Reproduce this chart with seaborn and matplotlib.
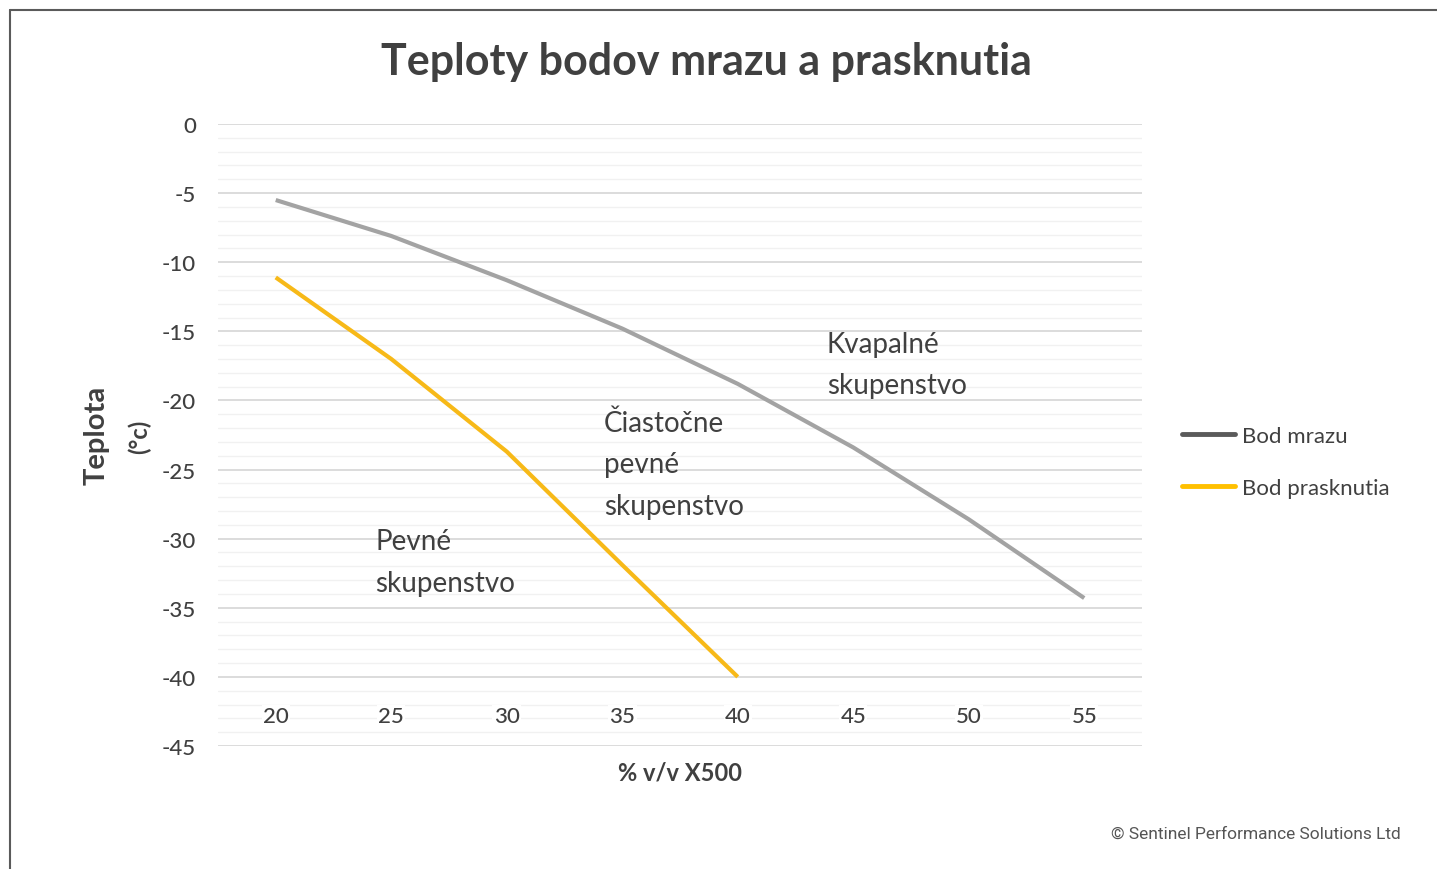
import matplotlib
matplotlib.use("Agg")
import matplotlib.pyplot as plt
from matplotlib.lines import Line2D
from matplotlib.ticker import MultipleLocator
import seaborn as sns
import pandas as pd

# ---- data ----
x_values = [20, 25, 30, 35, 40, 45, 50, 55]
bod_mrazu = [-5.5, -8.1, -11.3, -14.8, -18.8, -23.4, -28.6, -34.3]
x_prask = [20, 25, 30, 35, 40]
bod_prasknutia = [-11.1, -17.0, -23.7, -31.9, -40.0]
series_names = ["Bod mrazu", "Bod prasknutia"]
y_ticks = [0, -5, -10, -15, -20, -25, -30, -35, -40, -45]

title = "Teploty bodov mrazu a prasknutia"
xlabel = "% v/v X500"
ylabel1 = "Teplota"
ylabel2 = "(°c)"
credit = "© Sentinel Performance Solutions Ltd"
regions = [
    ("Kvapalné\nskupenstvo", 43.85, -17.4),
    ("Čiastočne\npevné\nskupenstvo", 34.2, -24.6),
    ("Pevné\nskupenstvo", 24.3, -31.7),
]

colors = {"Bod mrazu": "#a3a3a3", "Bod prasknutia": "#f7b918"}
legend_colors = {"Bod mrazu": "#5a5a5a", "Bod prasknutia": "#ffc000"}

df = pd.concat([
    pd.DataFrame({"x": x_values, "y": bod_mrazu, "serie": series_names[0]}),
    pd.DataFrame({"x": x_prask, "y": bod_prasknutia, "serie": series_names[1]}),
])

sns.set_theme(style="white")
plt.rcParams["font.family"] = ["Lato", "DejaVu Sans"]
plt.rcParams["axes.unicode_minus"] = False

fig = plt.figure(figsize=(14.37, 8.70), dpi=100)
fig.patch.set_facecolor("white")
ax = fig.add_axes([0.1517, 0.1414, 0.6430, 0.7149])

sns.lineplot(data=df, x="x", y="y", hue="serie", palette=colors, linewidth=3,
             ax=ax, legend=False, sort=False)
for line in ax.lines:
    line.set_solid_capstyle("butt")

ax.set_xlim(17.5, 57.5)
ax.set_ylim(-45, 0)
ax.set_yticks(y_ticks)
ax.yaxis.set_minor_locator(MultipleLocator(1))
ax.set_xticks(x_values)
ax.grid(True, which="major", axis="y", color="#d9d9d9", linewidth=1.3)
ax.grid(True, which="minor", axis="y", color="#f1f1f1", linewidth=1.0)
ax.grid(False, axis="x")
ax.set_axisbelow(True)
ax.xaxis.set_zorder(1.5)  # x tick labels above the y gridlines, below the lines
for s in ["top", "right", "left"]:
    ax.spines[s].set_visible(False)
ax.spines["bottom"].set_position(("data", -40))
ax.spines["bottom"].set_visible(False)
ax.tick_params(axis="both", which="both", length=0)
ax.tick_params(axis="x", pad=21, labelsize=16, labelcolor="#404040")
ax.tick_params(axis="y", pad=16, labelsize=16, labelcolor="#404040")
for lbl in ax.get_xticklabels() + ax.get_yticklabels():
    lbl.set_fontweight("medium")
for lbl in ax.get_xticklabels():
    lbl.set_bbox(dict(facecolor="white", edgecolor="none", pad=1.0))
ax.set_xlabel("")
ax.set_ylabel("")

for txt, xx, yy in regions:
    ax.text(xx, yy, txt, ha="left", va="center", fontsize=20, color="#404040",
            linespacing=1.75)

# axis titles
fig.text(680 / 1437, 1 - 773 / 870, xlabel, ha="center", va="center",
         fontsize=17, fontweight="bold", color="#404040")
fig.text(97 / 1437, 1 - 435 / 870, ylabel1, ha="center", va="center",
         rotation=90, fontsize=21, fontweight="bold", color="#404040")
fig.text(139 / 1437, 1 - 437 / 870, ylabel2, ha="center", va="center",
         rotation=90, fontsize=17, fontweight="bold", color="#404040")

fig.text(706 / 1437, 1 - 62 / 870, title, ha="center", va="center",
         fontsize=31, fontweight="bold", color="#404040")

handles = [Line2D([0], [0], color=legend_colors[n], linewidth=3.5,
                  solid_capstyle="round") for n in series_names]
fig.legend(handles, series_names, loc="center left",
           bbox_to_anchor=(1162 / 1437, 1 - 463 / 870), frameon=False,
           fontsize=16, labelcolor="#404040", handlelength=2.4,
           handletextpad=0.3, labelspacing=1.45)

fig.text(1401 / 1437, 1 - 834 / 870, credit, ha="right", va="center",
         fontsize=12.5, color="#555555", family=["Roboto", "DejaVu Sans"])

# frame (top and left edges)
fig.add_artist(Line2D([10 / 1437, 1.0], [1 - 11 / 870, 1 - 11 / 870],
                      color="#5a5a5a", linewidth=1.5))
fig.add_artist(Line2D([10 / 1437, 10 / 1437], [0.0, 1 - 11 / 870],
                      color="#5a5a5a", linewidth=1.5))

fig.savefig("out.png", dpi=100, facecolor="white")
